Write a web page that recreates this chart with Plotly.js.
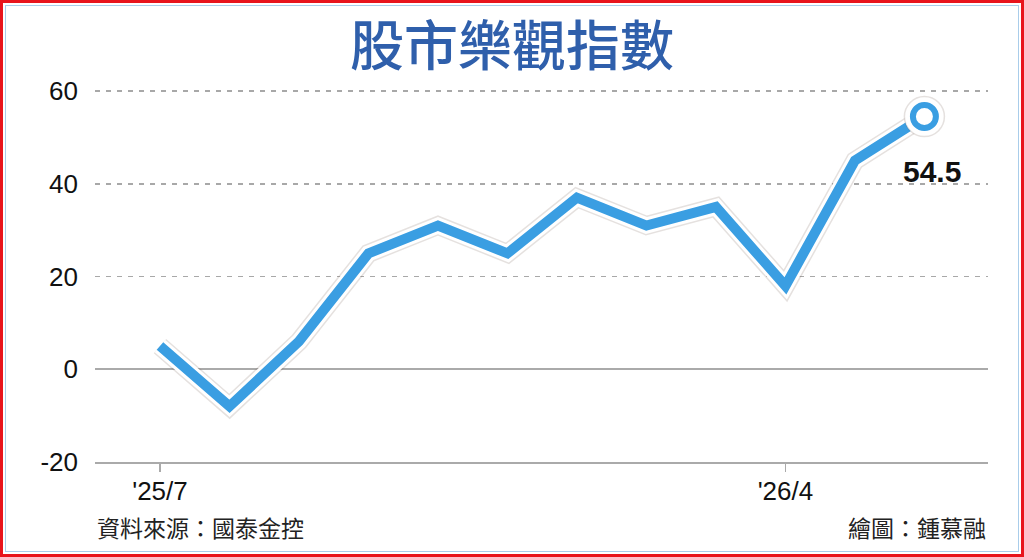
<!DOCTYPE html>
<html>
<head>
<meta charset="utf-8">
<script src="https://cdn.plot.ly/plotly-3.0.1.min.js"></script>
<style>
  body { margin: 0; background: #fff; }
  #chart { width: 1024px; height: 557px; }
  .frame-red { position: absolute; left: 0; top: 0; width: 1024px; height: 557px; box-sizing: border-box; border: 3px solid #e8141c; pointer-events: none; }
  .frame-blue { position: absolute; left: 5px; top: 5px; width: 1014px; height: 547px; box-sizing: border-box; border: 1px solid #a9cdea; pointer-events: none; }
</style>
</head>
<body>
<div id="chart"></div>
<div class="frame-red"></div>
<div class="frame-blue"></div>
<script>
// monthly optimism index, '25/7 .. '26/6
let months = ["'25/7", "'25/8", "'25/9", "'25/10", "'25/11", "'25/12",
              "'26/1", "'26/2", "'26/3", "'26/4", "'26/5", "'26/6"];
let index = [5, -8, 6, 25, 31, 25, 37, 31, 35, 18, 45, 54.5];

let shownTicks = ["'25/7", "'26/4"];
let yTicks = [-20, 0, 20, 40, 60];

let lastX = months[months.length - 1];
let lastY = index[index.length - 1];

let blue = "#3a9ee2";

let traces = [
    // faint shadow under the line
    {
        type: "scatter", mode: "lines", x: months, y: index,
        line: { color: "rgba(110,90,80,0.18)", width: 19 },
        hoverinfo: "skip", showlegend: false, cliponaxis: false
    },
    // white outline
    {
        type: "scatter", mode: "lines", x: months, y: index,
        line: { color: "#ffffff", width: 16 },
        hoverinfo: "skip", showlegend: false, cliponaxis: false
    },
    // main blue line
    {
        type: "scatter", mode: "lines", x: months, y: index,
        line: { color: blue, width: 10 },
        name: "股市樂觀指數", showlegend: false, cliponaxis: false
    },
    // end point halo
    {
        type: "scatter", mode: "markers", x: [lastX], y: [lastY],
        marker: { size: 40, color: "#ffffff", line: { color: "rgba(110,90,80,0.18)", width: 1.5 } },
        hoverinfo: "skip", showlegend: false, cliponaxis: false
    },
    // end point ring
    {
        type: "scatter", mode: "markers", x: [lastX], y: [lastY],
        marker: { size: 23, color: "#ffffff", line: { color: blue, width: 6 } },
        showlegend: false, cliponaxis: false
    }
];

let layout = {
    width: 1024,
    height: 557,
    margin: { l: 95, r: 36, t: 89, b: 95 },
    paper_bgcolor: "#ffffff",
    plot_bgcolor: "#ffffff",
    showlegend: false,
    title: {
        text: "股市樂觀指數",
        font: { family: "Noto Sans CJK TC", size: 54, color: "#2f5fab", weight: 500 },
        xref: "container", x: 0.5, xanchor: "center",
        yref: "container", y: 1 - 47 / 557, yanchor: "middle"
    },
    xaxis: {
        type: "category",
        categoryorder: "array",
        categoryarray: months,
        range: [-0.935, 11.915],
        tickvals: shownTicks,
        ticktext: shownTicks,
        ticks: "outside",
        ticklen: 8,
        tickwidth: 1.5,
        tickcolor: "#aaaaaa",
        ticklabelstandoff: -3,
        showgrid: false,
        zeroline: false,
        showline: true,
        linecolor: "#aaaaaa",
        linewidth: 2,
        tickfont: { family: "Liberation Sans, Arial, sans-serif", size: 26, color: "#111111" },
        fixedrange: true
    },
    yaxis: {
        range: [-20, 60.45],
        tickvals: yTicks,
        ticktext: yTicks.map(String),
        showgrid: true,
        gridcolor: "#a8a8a8",
        gridwidth: 1.5,
        griddash: "5px,6px",
        zeroline: true,
        zerolinecolor: "#aaaaaa",
        zerolinewidth: 2,
        showline: false,
        ticks: "",
        ticklabelstandoff: 16,
        tickfont: { family: "Liberation Sans, Arial, sans-serif", size: 26, color: "#111111" },
        fixedrange: true
    },
    annotations: [
        {
            x: lastX, y: lastY, xref: "x", yref: "y",
            text: String(lastY),
            showarrow: false,
            xshift: 8, yshift: -55,
            font: { family: "Liberation Sans, Arial, sans-serif", size: 30, color: "#111111", weight: 700 }
        },
        {
            xref: "paper", yref: "paper", x: 0, y: -(527 - 462) / 373,
            xanchor: "left", yanchor: "middle",
            text: "資料來源：國泰金控",
            showarrow: false,
            font: { family: "Noto Sans CJK TC", size: 23, color: "#222222" }
        },
        {
            xref: "paper", yref: "paper", x: 1, y: -(527 - 462) / 373,
            xanchor: "right", yanchor: "middle",
            text: "繪圖：鍾慕融",
            showarrow: false,
            font: { family: "Noto Sans CJK TC", size: 23, color: "#222222" }
        }
    ]
};

Plotly.newPlot("chart", traces, layout, { displayModeBar: false, staticPlot: true });
</script>
</body>
</html>
